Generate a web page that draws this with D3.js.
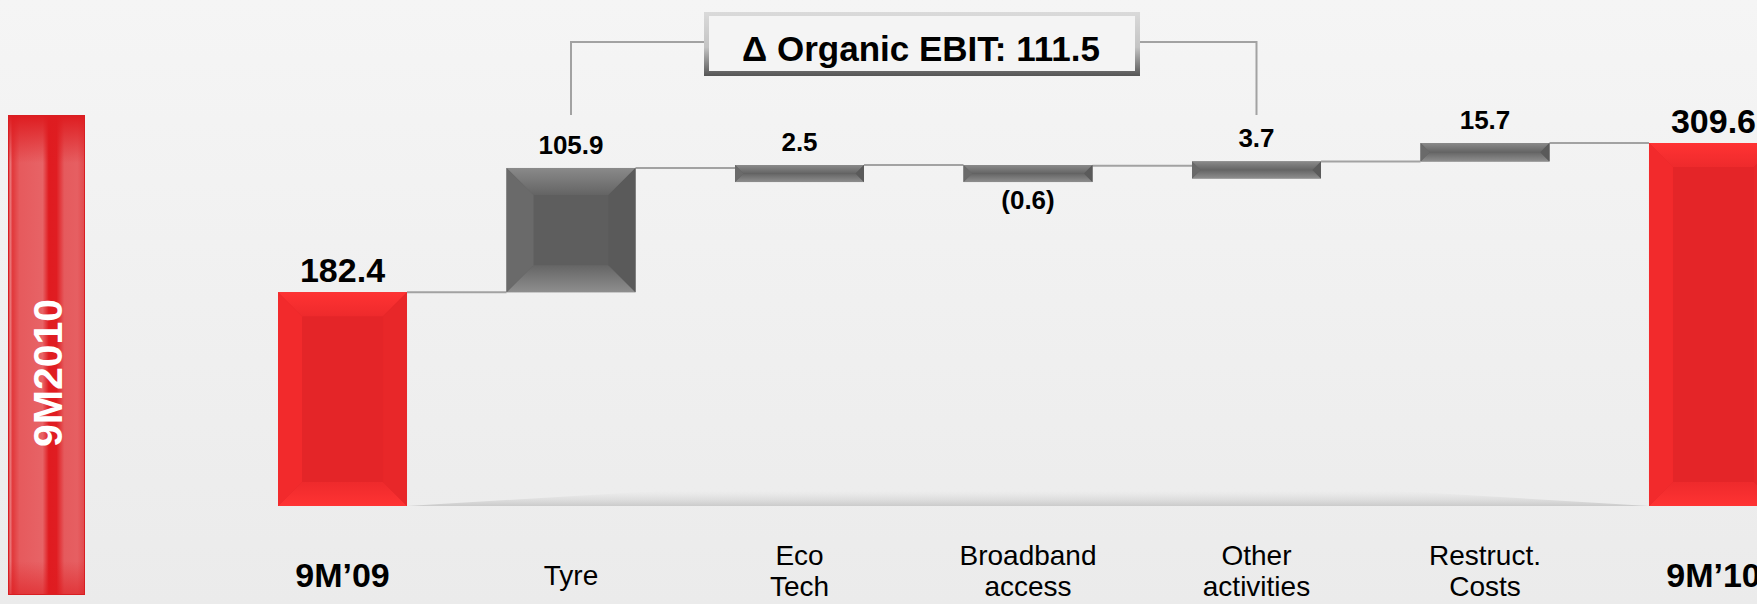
<!DOCTYPE html>
<html>
<head>
<meta charset="utf-8">
<script src="https://cdn.jsdelivr.net/npm/d3@7"></script>
<style>
  html, body { margin: 0; padding: 0; overflow: hidden; background: #f0f0f0; }
  svg { display: block; font-family: Arial, "Liberation Sans", sans-serif; }
</style>
</head>
<body>
<svg id="chart" width="1757" height="604"></svg>
<script>
// ---------- data ----------
const categories = ["9M'09", "Tyre", "Eco Tech", "Broadband access", "Other activities", "Restruct. Costs", "9M'10"];
const categoryLines = [["9M\u201909"], ["Tyre"], ["Eco", "Tech"], ["Broadband", "access"], ["Other", "activities"], ["Restruct.", "Costs"], ["9M\u201910"]];
const barKinds = ["total", "delta", "delta", "delta", "delta", "delta", "total"];
const values = [182.4, 105.9, 2.5, -0.6, 3.7, 15.7, 309.6];
const valueLabels = ["182.4", "105.9", "2.5", "(0.6)", "3.7", "15.7", "309.6"];
const annotationText = "\u0394 Organic EBIT: 111.5";
const bracketFrom = "Tyre", bracketTo = "Other activities";
const sideLabel = "9M2010";

// ---------- setup ----------
const W = 1757, H = 604;
const svg = d3.select("#chart");
const defs = svg.append("defs");

function lin(id, stops, vertical = true) {
  const g = defs.append("linearGradient").attr("id", id)
    .attr("x1", 0).attr("y1", 0).attr("x2", vertical ? 0 : 1).attr("y2", vertical ? 1 : 0);
  stops.forEach(([o, c, op]) => g.append("stop").attr("offset", o).attr("stop-color", c).attr("stop-opacity", op == null ? 1 : op));
}
lin("bg", [[0, "#f5f5f5"], [1, "#ebebeb"]]);
lin("redTop", [[0, "#ff3333"], [1, "#ee2a2c"]]);
lin("redBot", [[0, "#ee2a2c"], [1, "#ff3333"]]);
lin("grayTop", [[0, "#8a8a8a"], [1, "#646464"]]);
lin("grayBot", [[0, "#656565"], [1, "#8e8e8e"]]);
lin("floor", [[0, "#d0d0d0", 0], [1, "#b4b4b4", 0.6]]);
lin("boxBorder", [[0, "#dadada"], [0.55, "#c4c4c4"], [1, "#555555"]]);
lin("sideH", [[0, "#dc2326"], [0.03, "#e9777a"], [0.06, "#e2383b"], [0.15, "#e65a5d"], [0.45, "#e76366"],
              [0.53, "#e01b20"], [0.63, "#e01d22"], [0.73, "#e55a5d"], [0.9, "#e65f62"], [1, "#e24a4d"]], false);
lin("sideV", [[0, "#de1c20", 1], [0.1, "#de1c20", 0], [0.93, "#de1c20", 0], [1, "#de1c20", 0.6]]);

svg.append("rect").attr("width", W).attr("height", H).attr("fill", "url(#bg)");

// ---------- scales ----------
const x = d3.scaleBand().domain(categories).range([278, 1778]).paddingInner(0.4354).paddingOuter(0);
const y = d3.scaleLinear().domain([0, 309.6]).range([506, 143]);

// cumulative waterfall
let run = 0;
const bars = categories.map((c, i) => {
  let start, end;
  if (barKinds[i] === "total") { start = 0; end = values[i]; run = values[i]; }
  else { start = run; end = run + values[i]; run = end; }
  return { cat: c, i, start, end, kind: barKinds[i], value: values[i], label: valueLabels[i], lines: categoryLines[i] };
});

const MIN_H = 17;
bars.forEach(d => {
  const top = y(Math.max(d.start, d.end));
  const bot = y(Math.min(d.start, d.end));
  d.x = x(d.cat); d.w = x.bandwidth();
  d.y = top; d.h = Math.max(bot - top, MIN_H);
});

// ---------- floor shadow ----------
const fx0 = x(categories[0]) + x.bandwidth(), fx1 = x(categories[categories.length - 1]);
svg.append("polygon")
  .attr("points", [[fx0, y(0)], [fx1, y(0)], [fx1 - 250, y(0) - 15], [fx0 + 250, y(0) - 15]].map(p => p.join(",")).join(" "))
  .attr("fill", "url(#floor)");

// ---------- connectors ----------
const conG = svg.append("g");
bars.slice(0, -1).forEach((d, i) => {
  const n = bars[i + 1];
  conG.append("line")
    .attr("x1", d.x + d.w).attr("x2", n.x)
    .attr("y1", y(d.end)).attr("y2", y(d.end))
    .attr("stroke", "#a2a2a2").attr("stroke-width", 2);
});

// ---------- bevel bars ----------
function bevel(g, x0, y0, w, h, b, c) {
  const P = pts => pts.map(p => p.join(",")).join(" ");
  g.append("rect").attr("x", x0).attr("y", y0).attr("width", w).attr("height", h).attr("fill", c.center);
  g.append("polygon").attr("points", P([[x0, y0], [x0 + w, y0], [x0 + w - b, y0 + b], [x0 + b, y0 + b]])).attr("fill", c.top);
  g.append("polygon").attr("points", P([[x0, y0 + h], [x0 + w, y0 + h], [x0 + w - b, y0 + h - b], [x0 + b, y0 + h - b]])).attr("fill", c.bottom);
  g.append("polygon").attr("points", P([[x0, y0], [x0 + b, y0 + b], [x0 + b, y0 + h - b], [x0, y0 + h]])).attr("fill", c.left);
  g.append("polygon").attr("points", P([[x0 + w, y0], [x0 + w - b, y0 + b], [x0 + w - b, y0 + h - b], [x0 + w, y0 + h]])).attr("fill", c.right);
}
const redC = { center: "#e42528", top: "url(#redTop)", bottom: "url(#redBot)", left: "#f22a2c", right: "#e82729" };
const grayC = { center: "#5e5e5e", top: "url(#grayTop)", bottom: "url(#grayBot)", left: "#6a6a6a", right: "#5a5a5a" };

const barG = svg.append("g");
bars.forEach(d => {
  const g = barG.append("g");
  if (d.kind === "total") bevel(g, d.x, d.y, d.w, d.h, 24, redC);
  else bevel(g, d.x, d.y, d.w, d.h, Math.min(27, d.h / 2), grayC);
});

// ---------- value labels ----------
const lblG = svg.append("g").attr("text-anchor", "middle").attr("font-weight", "bold").attr("fill", "#000");
bars.forEach(d => {
  const cx = d.x + d.w / 2;
  if (d.kind === "total") {
    lblG.append("text").attr("x", cx).attr("y", d.y - 10).attr("font-size", 34).text(d.label);
  } else if (d.value >= 0) {
    lblG.append("text").attr("x", cx).attr("y", d.y - 14).attr("font-size", 26).text(d.label);
  } else {
    lblG.append("text").attr("x", cx).attr("y", d.y + d.h + 27).attr("font-size", 26).text(d.label);
  }
});

// ---------- category labels ----------
const catG = svg.append("g").attr("text-anchor", "middle").attr("fill", "#000");
bars.forEach(d => {
  const cx = d.x + d.w / 2;
  if (d.kind === "total") {
    catG.append("text").attr("x", cx).attr("y", 587).attr("font-size", 34).attr("font-weight", "bold").text(d.lines[0]);
  } else if (d.lines.length === 1) {
    catG.append("text").attr("x", cx).attr("y", 585).attr("font-size", 28).text(d.lines[0]);
  } else {
    d.lines.forEach((t, k) => catG.append("text").attr("x", cx).attr("y", 565 + k * 31).attr("font-size", 28).text(t));
  }
});

// ---------- annotation bracket + box ----------
const bx1 = x(bracketFrom) + x.bandwidth() / 2, bx2 = x(bracketTo) + x.bandwidth() / 2;
const boxX = 704, boxY = 12, boxW = 436, boxH = 64, lineY = 42, lineBottom = 115;
svg.append("path")
  .attr("d", `M${bx1},${lineBottom}V${lineY}H${boxX} M${bx2},${lineBottom}V${lineY}H${boxX + boxW}`)
  .attr("fill", "none").attr("stroke", "#a2a2a2").attr("stroke-width", 2);
svg.append("rect").attr("x", boxX).attr("y", boxY).attr("width", boxW).attr("height", boxH).attr("fill", "url(#boxBorder)");
svg.append("rect").attr("x", boxX + 5).attr("y", boxY + 4).attr("width", boxW - 10).attr("height", boxH - 9).attr("fill", "#f4f4f4");
svg.append("text").attr("x", boxX + boxW / 2 - 1).attr("y", 61).attr("text-anchor", "middle")
  .attr("font-size", 35).attr("font-weight", "bold").attr("fill", "#000").text(annotationText);

// ---------- side tab ----------
const side = svg.append("g");
const sY = 115, sH = 480;
side.append("rect").attr("x", 8).attr("y", sY).attr("width", 77).attr("height", sH).attr("fill", "url(#sideH)");
side.append("rect").attr("x", 8).attr("y", sY).attr("width", 77).attr("height", sH).attr("fill", "url(#sideV)");
side.append("rect").attr("x", 8.5).attr("y", sY + 0.5).attr("width", 76).attr("height", sH - 1).attr("fill", "none").attr("stroke", "#d81e22").attr("stroke-width", 1);
side.append("text").attr("transform", "translate(62,373) rotate(-90)").attr("text-anchor", "middle")
  .attr("font-size", 41).attr("font-weight", "bold").attr("fill", "#ffffff").text(sideLabel);
</script>
</body>
</html>
